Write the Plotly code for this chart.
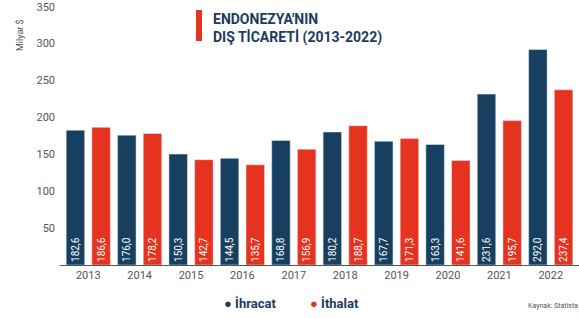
import plotly.graph_objects as go

years = ["2013", "2014", "2015", "2016", "2017", "2018", "2019", "2020", "2021", "2022"]
ihracat = [182.6, 176.0, 150.3, 144.5, 168.8, 180.2, 167.7, 163.3, 231.6, 292.0]
ithalat = [186.6, 178.2, 142.7, 135.7, 156.9, 188.7, 171.3, 141.6, 195.7, 237.4]
y_ticks = [50, 100, 150, 200, 250, 300, 350]

NAVY = "#173f5f"
RED = "#e6331f"
TXT = "#1d3b5c"
FONT = "Liberation Sans Narrow, Roboto, Arial"

def fmt(v):
    return f"{v:.1f}".replace(".", ",")

fig = go.Figure()
for name, vals, col in [("İhracat", ihracat, NAVY), ("İthalat", ithalat, RED)]:
    fig.add_trace(go.Bar(
        x=years, y=vals, name=name, marker_color=col,
        text=[fmt(v) for v in vals], textposition="inside",
        insidetextanchor="start", textangle=-90,
        textfont=dict(color="white", size=10, family=FONT),
        constraintext="none", showlegend=False,
    ))

L, R, T, B = 60, 0, 6, 53
PW, PH = 579 - L - R, 318 - T - B

def px(x):
    return (x - L) / PW

def py(y):
    return (318 - B - y) / PH

fig.update_layout(
    width=579, height=318,
    margin=dict(l=L, r=R, t=T, b=B),
    paper_bgcolor="white", plot_bgcolor="white",
    barmode="group", bargap=0.0, bargroupgap=0.28,
    font=dict(family=FONT, color="#555"),
    xaxis=dict(type="category", range=[-0.55, 9.55], showline=True, linecolor="#555",
               linewidth=1, ticks="", tickfont=dict(size=11, color="#555"), automargin=False),
    yaxis=dict(range=[0, 351], tickvals=y_ticks, showgrid=False, zeroline=False,
               showline=False, tickfont=dict(size=11, color="#555"), ticklabelstandoff=4,
               automargin=False, ticklabeloverflow="allow"),
)

# title block
fig.add_shape(type="rect", xref="paper", yref="paper",
              x0=px(196), x1=px(202), y0=py(41), y1=py(10),
              fillcolor=RED, line_width=0)
fig.add_annotation(xref="paper", yref="paper", x=px(211), y=py(9),
                   xanchor="left", yanchor="top", align="left", showarrow=False,
                   text="<b>ENDONEZYA'NIN<br>DIŞ TİCARETİ (2013-2022)</b>",
                   font=dict(size=14, color=TXT, family=FONT))

# y-axis unit
fig.add_annotation(xref="paper", yref="paper", x=px(13), y=py(17),
                   textangle=-90, showarrow=False, text="Milyar $",
                   font=dict(size=9, color="#555"))

# legend
fig.add_annotation(xref="paper", yref="paper", x=px(222), y=py(303),
                   xanchor="left", yanchor="middle", showarrow=False,
                   text=f"<span style='color:{NAVY}'>●</span> <b>İhracat</b>",
                   font=dict(size=13, color=TXT, family=FONT))
fig.add_annotation(xref="paper", yref="paper", x=px(308), y=py(303),
                   xanchor="left", yanchor="middle", showarrow=False,
                   text=f"<span style='color:{RED}'>●</span> <b>İthalat</b>",
                   font=dict(size=13, color=TXT, family=FONT))
fig.add_annotation(xref="paper", yref="paper", x=px(526), y=py(306),
                   xanchor="left", yanchor="middle", showarrow=False,
                   text="Kaynak: Statista", font=dict(size=7, color="#555"))

fig.write_html("out.html", config={"displayModeBar": False},
               post_script="document.body.style.margin='0';document.body.style.overflow='hidden';")
